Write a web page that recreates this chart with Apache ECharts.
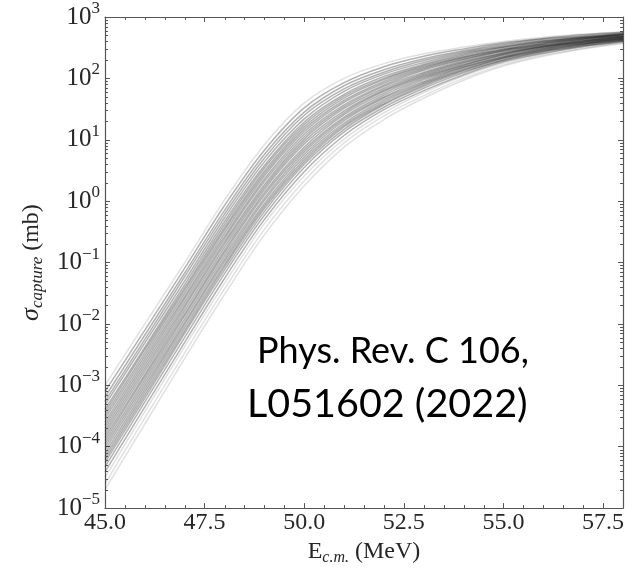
<!DOCTYPE html>
<html>
<head>
<meta charset="utf-8">
<title>capture cross section</title>
<script src="https://cdn.jsdelivr.net/npm/echarts@6/dist/echarts.min.js"></script>
<style>
  html, body { margin: 0; padding: 0; background: #fff; }
  #chart { width: 630px; height: 571px; }
</style>
</head>
<body>
<div id="chart"></div>
<script>
// E_cm grid (MeV)
const energies = [45, 46, 47, 48, 49, 50, 51, 52, 53, 54, 55, 56, 57, 58];

// log10(sigma_capture / mb), one row per curve
const logSigmaCurves = [
  [-3.00, -2.00, -1.00,  0.02,  0.92, 1.60, 2.00, 2.24, 2.40, 2.51, 2.60, 2.67, 2.72, 2.76],
  [-3.10, -2.10, -1.09, -0.07,  0.83, 1.52, 1.93, 2.19, 2.36, 2.48, 2.58, 2.65, 2.71, 2.75],
  [-3.19, -2.18, -1.17, -0.15,  0.76, 1.45, 1.88, 2.14, 2.32, 2.45, 2.56, 2.64, 2.69, 2.74],
  [-3.26, -2.25, -1.23, -0.21,  0.70, 1.40, 1.83, 2.10, 2.29, 2.43, 2.54, 2.62, 2.68, 2.73],
  [-3.32, -2.31, -1.30, -0.27,  0.64, 1.34, 1.79, 2.07, 2.26, 2.41, 2.52, 2.61, 2.67, 2.72],
  [-3.39, -2.38, -1.36, -0.33,  0.58, 1.29, 1.74, 2.03, 2.23, 2.39, 2.51, 2.60, 2.66, 2.72],
  [-3.44, -2.42, -1.41, -0.38,  0.54, 1.25, 1.71, 2.00, 2.21, 2.37, 2.50, 2.59, 2.66, 2.71],
  [-3.49, -2.47, -1.45, -0.43,  0.49, 1.21, 1.68, 1.98, 2.19, 2.35, 2.48, 2.58, 2.65, 2.71],
  [-3.54, -2.52, -1.50, -0.47,  0.45, 1.17, 1.64, 1.95, 2.17, 2.34, 2.47, 2.57, 2.64, 2.70],
  [-3.60, -2.57, -1.55, -0.52,  0.41, 1.13, 1.61, 1.92, 2.15, 2.32, 2.46, 2.56, 2.64, 2.69],
  [-3.65, -2.62, -1.59, -0.57,  0.36, 1.09, 1.57, 1.89, 2.13, 2.31, 2.45, 2.55, 2.63, 2.69],
  [-3.70, -2.67, -1.64, -0.61,  0.32, 1.05, 1.54, 1.87, 2.10, 2.29, 2.44, 2.54, 2.62, 2.68],
  [-3.75, -2.72, -1.69, -0.66,  0.27, 1.01, 1.51, 1.84, 2.08, 2.27, 2.42, 2.53, 2.61, 2.68],
  [-3.80, -2.77, -1.73, -0.70,  0.23, 0.97, 1.47, 1.81, 2.06, 2.26, 2.41, 2.52, 2.61, 2.67],
  [-3.85, -2.82, -1.78, -0.75,  0.19, 0.93, 1.44, 1.79, 2.04, 2.24, 2.40, 2.52, 2.60, 2.67],
  [-3.90, -2.86, -1.83, -0.80,  0.14, 0.88, 1.41, 1.76, 2.02, 2.22, 2.39, 2.51, 2.59, 2.66],
  [-3.95, -2.91, -1.87, -0.84,  0.10, 0.84, 1.37, 1.73, 2.00, 2.21, 2.38, 2.50, 2.59, 2.65],
  [-4.00, -2.96, -1.92, -0.89,  0.05, 0.80, 1.34, 1.70, 1.98, 2.19, 2.36, 2.49, 2.58, 2.65],
  [-4.05, -3.01, -1.97, -0.94,  0.01, 0.76, 1.31, 1.68, 1.95, 2.18, 2.35, 2.48, 2.57, 2.64],
  [-4.11, -3.06, -2.01, -0.98, -0.04, 0.72, 1.27, 1.65, 1.93, 2.16, 2.34, 2.47, 2.56, 2.64],
  [-4.16, -3.11, -2.06, -1.03, -0.08, 0.68, 1.24, 1.62, 1.91, 2.14, 2.33, 2.46, 2.56, 2.63],
  [-4.21, -3.16, -2.11, -1.07, -0.12, 0.64, 1.21, 1.59, 1.89, 2.13, 2.32, 2.45, 2.55, 2.62],
  [-4.26, -3.21, -2.15, -1.12, -0.17, 0.60, 1.17, 1.57, 1.87, 2.11, 2.30, 2.44, 2.54, 2.62],
  [-4.33, -3.27, -2.22, -1.18, -0.23, 0.55, 1.13, 1.53, 1.84, 2.09, 2.29, 2.43, 2.53, 2.61],
  [-4.41, -3.35, -2.30, -1.26, -0.30, 0.48, 1.07, 1.49, 1.80, 2.06, 2.27, 2.41, 2.52, 2.60],
  [-4.50, -3.43, -2.37, -1.34, -0.37, 0.41, 1.01, 1.44, 1.77, 2.04, 2.25, 2.40, 2.51, 2.59],
  [-4.60, -3.53, -2.47, -1.43, -0.46, 0.33, 0.95, 1.39, 1.72, 2.00, 2.22, 2.38, 2.49, 2.58],
  [-4.70, -3.63, -2.56, -1.52, -0.55, 0.25, 0.88, 1.33, 1.68, 1.97, 2.20, 2.36, 2.48, 2.57]
];

// axis ticks
const xMajorTicks = [45.0, 47.5, 50.0, 52.5, 55.0, 57.5];
const xMinorTicks = [45.5, 46, 46.5, 47, 48, 48.5, 49, 49.5, 50.5, 51, 51.5, 52, 53, 53.5, 54, 54.5, 55.5, 56, 56.5, 57];
const yDecades = [-5, -4, -3, -2, -1, 0, 1, 2, 3];
const yMinorMultipliers = [2, 3, 4, 5, 6, 7, 8, 9];

const axisColor = '#555';
const textColor = '#262626';
const serif = 'Liberation Serif';

const chart = echarts.init(document.getElementById('chart'));

const nCurves = logSigmaCurves.length;
const series = logSigmaCurves.map(function (row, i) {
  // the outermost runs look fainter in the figure
  const faint = i === 0 || i >= nCurves - 3;
  return {
    name: 'run' + i,
    type: 'line',
    data: energies.map(function (e, j) { return [e, Math.pow(10, row[j])]; }),
    symbol: 'none',
    smooth: 0.35,
    silent: true,
    lineStyle: { color: faint ? 'rgba(0,0,0,0.12)' : 'rgba(0,0,0,0.3)', width: 1.5 }
  };
});

function supLabel(v) {
  const n = Math.round(Math.log10(v));
  if (yDecades.indexOf(n) < 0) return '';
  return '{b|10}{e|' + (n < 0 ? '\u2212' + (-n) : n) + '}';
}

const option = {
  animation: false,
  backgroundColor: '#fff',
  grid: { left: 105, right: 7, top: 13, bottom: 55 },
  xAxis: [
    {
      type: 'value', position: 'bottom', min: 45, max: 58, interval: 2.5,
      axisLine: { show: true, onZero: false, lineStyle: { color: axisColor, width: 1.2 } },
      axisTick: { show: true, inside: true, length: 5, lineStyle: { color: axisColor } },
      splitLine: { show: false },
      axisLabel: {
        showMaxLabel: false, margin: 3, color: textColor, fontFamily: serif, fontSize: 24,
        formatter: function (v) { return xMajorTicks.indexOf(v) >= 0 ? v.toFixed(1) : ''; }
      },
      name: '{r|E}{sub|c.m.}{r| (MeV)}',
      nameLocation: 'middle',
      nameGap: 22,
      nameTextStyle: {
        rich: {
          r: { fontFamily: serif, fontSize: 24, color: textColor },
          sub: { fontFamily: serif, fontStyle: 'italic', fontSize: 16, color: textColor, padding: [12, 0, 0, 0] }
        }
      }
    },
    {
      type: 'value', position: 'top', min: 45, max: 58, interval: 2.5,
      axisLine: { show: true, onZero: false, lineStyle: { color: axisColor, width: 1.2 } },
      axisTick: { show: true, inside: true, length: 5, lineStyle: { color: axisColor } },
      axisLabel: { show: false },
      splitLine: { show: false }
    }
  ],
  yAxis: [
    {
      type: 'log', logBase: 10, position: 'left', min: 1e-5, max: 1e3, interval: 1,
      axisLine: { show: true, lineStyle: { color: axisColor, width: 1.2 } },
      axisTick: { show: true, inside: true, length: 5, lineStyle: { color: axisColor } },
      splitLine: { show: false },
      axisLabel: {
        margin: 5, formatter: supLabel,
        rich: {
          b: { fontFamily: serif, fontSize: 25, color: textColor },
          e: { fontFamily: serif, fontSize: 17, color: textColor, padding: [0, 0, 17, 0] }
        }
      },
      name: '{s|\u03c3}{sub|capture}{r| (mb)}',
      nameLocation: 'middle',
      nameGap: 52,
      nameTextStyle: {
        rich: {
          s: { fontFamily: serif, fontStyle: 'italic', fontSize: 26, color: textColor },
          sub: { fontFamily: serif, fontStyle: 'italic', fontSize: 17, color: textColor, padding: [12, 0, 0, 0] },
          r: { fontFamily: serif, fontSize: 24, color: textColor }
        }
      }
    },
    {
      type: 'log', logBase: 10, position: 'right', min: 1e-5, max: 1e3, interval: 1,
      axisLine: { show: true, lineStyle: { color: axisColor, width: 1.2 } },
      axisTick: { show: true, inside: true, length: 5, lineStyle: { color: axisColor } },
      axisLabel: { show: false },
      splitLine: { show: false }
    }
  ],
  series: series
};

chart.setOption(option);

// minor ticks (matplotlib style) placed through the axis scales
const plotLeft = chart.convertToPixel({ xAxisIndex: 0 }, 45);
const plotRight = chart.convertToPixel({ xAxisIndex: 0 }, 58);
const plotBottom = chart.convertToPixel({ yAxisIndex: 0 }, 1e-5);
const plotTop = chart.convertToPixel({ yAxisIndex: 0 }, 1e3);
const graphics = [];
function tick(x1, y1, x2, y2) {
  graphics.push({
    type: 'line', silent: true, z: 50,
    shape: { x1: x1, y1: y1, x2: x2, y2: y2 },
    style: { stroke: axisColor, lineWidth: 1 }
  });
}
yDecades.slice(0, -1).forEach(function (n) {
  yMinorMultipliers.forEach(function (k) {
    const py = Math.round(chart.convertToPixel({ yAxisIndex: 0 }, k * Math.pow(10, n))) + 0.5;
    tick(plotLeft, py, plotLeft + 3, py);
    tick(plotRight - 3, py, plotRight, py);
  });
});
xMinorTicks.forEach(function (e) {
  const px = Math.round(chart.convertToPixel({ xAxisIndex: 0 }, e)) + 0.5;
  tick(px, plotBottom, px, plotBottom - 3);
  tick(px, plotTop, px, plotTop + 3);
});

// citation
graphics.push({
  type: 'text', left: 257, top: 333, z: 60, silent: true,
  style: { text: 'Phys. Rev. C 106,', fill: '#000', font: '36px Lato' }
});
graphics.push({
  type: 'text', left: 247, top: 384, z: 60, silent: true,
  style: { text: 'L051602 (2022)', fill: '#000', font: '39.5px Lato' }
});

chart.setOption({ graphic: graphics });
</script>
</body>
</html>
